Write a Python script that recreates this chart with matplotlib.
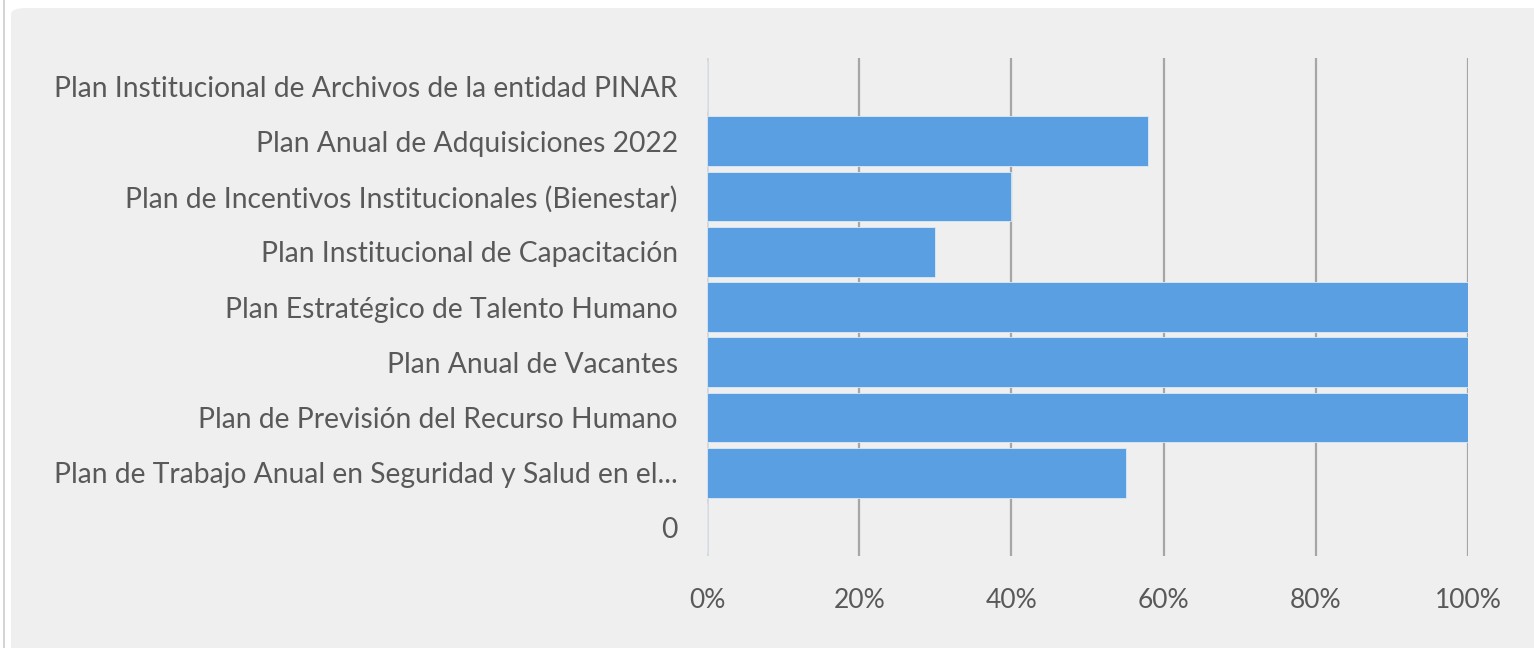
import matplotlib.pyplot as plt
from matplotlib.patches import FancyBboxPatch, Rectangle
from matplotlib.ticker import PercentFormatter

# categorias de arriba hacia abajo
planes = [
    "Plan Institucional de Archivos de la entidad PINAR",
    "Plan Anual de Adquisiciones 2022",
    "Plan de Incentivos Institucionales (Bienestar)",
    "Plan Institucional de Capacitación",
    "Plan Estratégico de Talento Humano",
    "Plan Anual de Vacantes",
    "Plan de Previsión del Recurso Humano",
    "Plan de Trabajo Anual en Seguridad y Salud en el...",
    "0",
]
avance = [0.0, 0.58, 0.40, 0.30, 1.0, 1.0, 1.0, 0.55, 0.0]
ticks_x = [0, 0.2, 0.4, 0.6, 0.8, 1.0]

plt.rcParams['font.family'] = ['Lato', 'DejaVu Sans']

W, H = 1534, 648
fig = plt.figure(figsize=(W / 100, H / 100), dpi=100)
fig.patch.set_facecolor("white")

# fondo gris del grafico (detras de los ejes)
fig.patches.append(Rectangle((3 / W, 0), 1.5 / W, 1, transform=fig.transFigure,
                             facecolor="#d4d4d4", edgecolor="none", zorder=-2))
fig.patches.append(FancyBboxPatch((11 / W, -0.05), 1.2, 1 - 8 / H + 0.05,
                                  boxstyle="round,pad=0,rounding_size=0.01",
                                  transform=fig.transFigure,
                                  facecolor="#efefef", edgecolor="none", zorder=-2))

ax = fig.add_axes([707 / W, 1 - 555.6 / H, (1468 - 707) / W, (555.6 - 58.5) / H])
ax.set_facecolor("none")

y = list(range(len(planes)))
ax.barh(y, avance, height=0.9, color="#5b9fe3", edgecolor="#dce9f7", linewidth=0.6, zorder=3)

ax.set_ylim(len(planes) - 0.5, -0.5)
ax.set_yticks(y)
ax.set_yticklabels(planes)
ax.set_xlim(0, 1.0)
ax.set_xticks(ticks_x)
ax.xaxis.set_major_formatter(PercentFormatter(1.0, decimals=0))

ax.grid(axis="x", color="#a6a6a6", linewidth=1.6, zorder=1)
ax.grid(axis="y", visible=False)
ax.axvline(0, color="#d6d6d6", linewidth=1.8, zorder=2)

for s in ax.spines.values():
    s.set_visible(False)

ax.tick_params(axis="y", length=0, pad=21, labelsize=20.3, labelcolor="#595959")
ax.tick_params(axis="x", length=0, pad=23, labelsize=19, labelcolor="#595959")

fig.savefig("out.png", dpi=100)
